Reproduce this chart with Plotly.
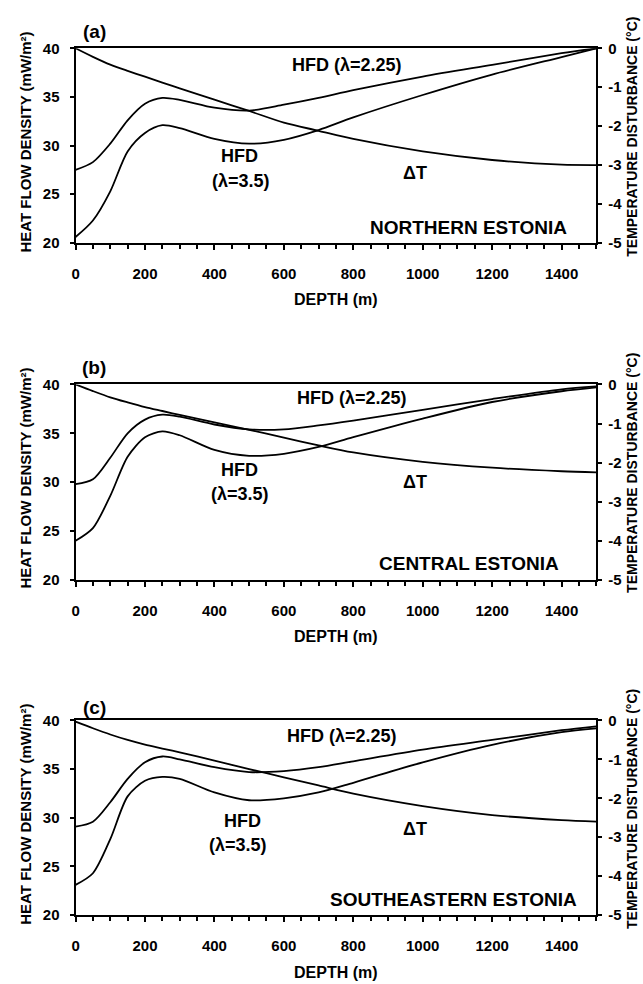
import plotly.graph_objects as go
from plotly.subplots import make_subplots

W, H = 643, 984

depth = [0, 50, 100, 150, 200, 250, 300, 400, 500, 600, 700, 800, 1000, 1200, 1400, 1500]

# Panel (a) Northern Estonia
hfd225_a = [27.5, 28.3, 30.2, 32.6, 34.3, 34.9, 34.7, 33.9, 33.6, 34.2, 34.9, 35.7, 37.1, 38.3, 39.5, 40.0]
hfd35_a = [20.6, 22.3, 25.3, 29.4, 31.3, 32.1, 31.8, 30.7, 30.2, 30.6, 31.6, 32.9, 35.2, 37.3, 39.1, 40.0]
dT_a = [0.0, -0.22, -0.42, -0.58, -0.73, -0.88, -1.03, -1.32, -1.61, -1.91, -2.12, -2.33, -2.65, -2.87, -2.99, -3.0]

# Panel (b) Central Estonia
hfd225_b = [29.8, 30.3, 32.5, 35.0, 36.4, 36.9, 36.7, 35.9, 35.4, 35.4, 35.8, 36.3, 37.4, 38.5, 39.5, 39.8]
hfd35_b = [24.0, 25.3, 28.6, 32.6, 34.6, 35.2, 34.8, 33.3, 32.7, 32.9, 33.6, 34.6, 36.5, 38.2, 39.3, 39.7]
dT_b = [0.0, -0.17, -0.33, -0.46, -0.58, -0.68, -0.78, -0.97, -1.16, -1.36, -1.56, -1.74, -1.98, -2.13, -2.22, -2.25]

# Panel (c) Southeastern Estonia
hfd225_c = [29.1, 29.6, 31.6, 34.0, 35.7, 36.3, 36.0, 35.2, 34.7, 34.8, 35.2, 35.8, 37.0, 38.0, 39.0, 39.4]
hfd35_c = [23.1, 24.3, 27.8, 32.2, 33.8, 34.2, 34.0, 32.6, 31.8, 32.0, 32.6, 33.6, 35.7, 37.5, 38.8, 39.2]
dT_c = [-0.03, -0.20, -0.36, -0.50, -0.62, -0.72, -0.82, -1.03, -1.25, -1.46, -1.67, -1.88, -2.20, -2.43, -2.56, -2.60]

panel_letters = ["(a)", "(b)", "(c)"]
region_names = ["NORTHERN ESTONIA", "CENTRAL ESTONIA", "SOUTHEASTERN ESTONIA"]
x_ticks = [0, 200, 400, 600, 800, 1000, 1200, 1400]
hfd_ticks = [20, 25, 30, 35, 40]
dT_ticks = [0, -1, -2, -3, -4, -5]
dT_ticktext = ["0", "-1", "-2", "-3", "-4", "-5"]

panels = [(hfd225_a, hfd35_a, dT_a), (hfd225_b, hfd35_b, dT_b), (hfd225_c, hfd35_c, dT_c)]

FONT = "Liberation Sans, Arial, sans-serif"
tops = [40, 382, 724]
bots = [238, 581, 922]
xl, xr = 72, 596

fig = make_subplots(rows=3, cols=1, specs=[[{"secondary_y": True}]] * 3)

for i, (u, l, d) in enumerate(panels):
    r = i + 1
    for ys in (u, l):
        fig.add_trace(go.Scatter(x=depth, y=ys, mode="lines",
                                 line=dict(color="black", width=1.8, shape="spline", smoothing=0.8),
                                 showlegend=False, hoverinfo="skip"), row=r, col=1, secondary_y=False)
    fig.add_trace(go.Scatter(x=depth, y=d, mode="lines",
                             line=dict(color="black", width=1.8, shape="spline", smoothing=0.8),
                             showlegend=False, hoverinfo="skip"), row=r, col=1, secondary_y=True)

tickfont = dict(family=FONT, size=15, color="black", weight="bold")

layout = dict(width=W, height=H, margin=dict(l=0, r=0, t=0, b=0, pad=0),
              plot_bgcolor="white", paper_bgcolor="white", showlegend=False)
for i in range(3):
    xs = "xaxis" if i == 0 else f"xaxis{i+1}"
    yp = "yaxis" if i == 0 else f"yaxis{2*i+1}"
    ysn = f"yaxis{2*i+2}"
    layout[xs] = dict(domain=[xl / W, xr / W], range=[0, 1500], tickvals=x_ticks,
                      ticks="outside", ticklen=5, tickwidth=1.5, tickcolor="black",
                      minor=dict(dtick=50, ticks="outside", ticklen=4, tickwidth=1.5, tickcolor="black"),
                      showline=True, linewidth=2, linecolor="black", mirror=True,
                      showgrid=False, zeroline=False, tickfont=tickfont, ticklabelstandoff=11)
    layout[yp] = dict(domain=[1 - bots[i] / H, 1 - tops[i] / H], range=[20, 40], tickvals=hfd_ticks,
                      ticks="outside", ticklen=4, tickwidth=1.5, tickcolor="black",
                      showline=True, linewidth=2, linecolor="black",
                      showgrid=False, zeroline=False, tickfont=tickfont, ticklabelstandoff=7)
    layout[ysn] = dict(range=[-5, 0], tickvals=dT_ticks, ticktext=dT_ticktext,
                       ticks="outside", ticklen=4, tickwidth=1.5, tickcolor="black",
                       showline=True, linewidth=2, linecolor="black",
                       showgrid=False, zeroline=False, tickfont=tickfont, ticklabelstandoff=3)
fig.update_layout(**layout)


def ann(text, x, y, size=18, xanchor="center", angle=0):
    fig.add_annotation(text=text, x=x / W, y=1 - y / H, xref="paper", yref="paper",
                       xanchor=xanchor, yanchor="middle", showarrow=False, textangle=angle,
                       font=dict(family=FONT, size=size, color="black", weight="bold"))


# text positions per panel (pixels)
lab_pos = [
    dict(letter=(91, 23), h225=(345, 57), hfd=(237, 150), lam=(238, 175), dT=(414, 167), reg=(569, 222)),
    dict(letter=(91, 365), h225=(350, 396), hfd=(237, 469), lam=(237, 494), dT=(414, 481), reg=(560, 564)),
    dict(letter=(91, 711), h225=(340, 740), hfd=(240, 826), lam=(235, 851), dT=(414, 834), reg=(579, 906)),
]
for i, p in enumerate(lab_pos):
    ann(panel_letters[i], *p["letter"], size=19)
    ann("HFD (λ=2.25)", *p["h225"])
    ann("HFD", *p["hfd"])
    ann("(λ=3.5)", *p["lam"])
    ann("ΔT", *p["dT"])
    ann(region_names[i], p["reg"][0], p["reg"][1], size=19, xanchor="right")
    ann("DEPTH (m)", (xl + xr) / 2, bots[i] + 58, size=16)
    ann("HEAT FLOW DENSITY (mW/m²)", 22, tops[i] + 95, size=15, angle=-90)
    ann("TEMPERATURE DISTURBANCE (°C)", 632, tops[i] + 90, size=14, angle=-90)

fig.write_html("out.html")
